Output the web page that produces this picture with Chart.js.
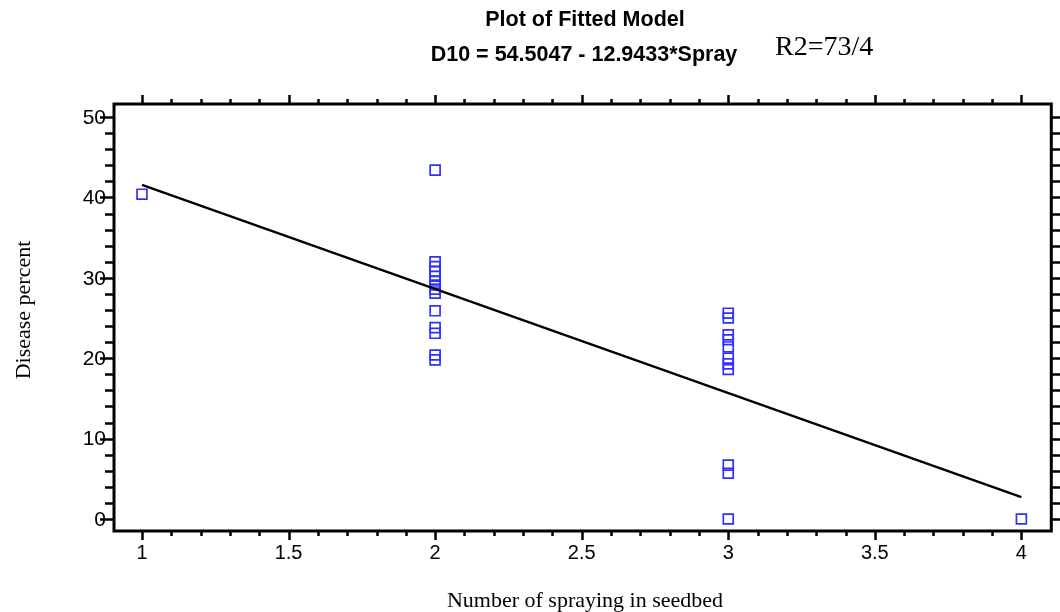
<!DOCTYPE html>
<html>
<head>
<meta charset="utf-8">
<script src="https://cdn.jsdelivr.net/npm/chart.js@4.4.1/dist/chart.umd.min.js"></script>
<style>
html,body{margin:0;padding:0;background:#fff;}
#wrap{width:1060px;height:612px;}
</style>
</head>
<body>
<div id="wrap"><canvas id="c" width="1060" height="612"></canvas></div>
<script>
// ---- data ----
const titleLines = ["Plot of Fitted Model", "D10 = 54.5047 - 12.9433*Spray"];
const r2Label = "R2=73/4";
const xAxisLabel = "Number of spraying in seedbed";
const yAxisLabel = "Disease percent";

const spray1 = [40.4];
const spray2 = [43.4, 32.0, 31.4, 30.8, 30.2, 29.6, 29.1, 28.6, 28.1, 25.9, 23.8, 23.1, 20.4, 19.8];
const spray3 = [25.6, 25.0, 22.9, 22.3, 21.4, 20.0, 19.3, 18.6, 6.7, 5.7, 0];
const spray4 = [0];

const fitX = [1, 4];
const fitY = [41.56, 2.73];

const xTickLabels = ["1", "1.5", "2", "2.5", "3", "3.5", "4"];
const yTickLabels = ["0", "10", "20", "30", "40", "50"];

// ---- build datasets ----
const points = [];
[[1, spray1], [2, spray2], [3, spray3], [4, spray4]].forEach(([x, arr]) => {
  arr.forEach(v => points.push({x: x, y: v}));
});
const fitLine = fitX.map((x, i) => ({x: x, y: fitY[i]}));

const decor = {
  id: 'decor',
  afterDraw(chart) {
    const ctx = chart.ctx;
    const xs = chart.scales.x, ys = chart.scales.y;
    const a = chart.chartArea;
    ctx.save();
    ctx.strokeStyle = '#000';
    ctx.lineCap = 'butt';
    // frame
    ctx.lineWidth = 3;
    ctx.strokeRect(a.left, a.top, a.right - a.left, a.bottom - a.top);
    // x ticks (bottom & top)
    ctx.lineWidth = 2.5;
    for (let i = 10; i <= 40; i++) {
      const v = i / 10;
      const px = Math.round(xs.getPixelForValue(v)) + 0.5;
      const major = (i % 5 === 0);
      const len = major ? 9 : 5;
      ctx.beginPath();
      ctx.moveTo(px, a.bottom); ctx.lineTo(px, a.bottom + len);
      ctx.moveTo(px, a.top); ctx.lineTo(px, a.top - len);
      ctx.stroke();
    }
    // y ticks (left & right)
    for (let v = 0; v <= 50; v += 2) {
      const py = Math.round(ys.getPixelForValue(v)) + 0.5;
      const major = (v % 10 === 0);
      ctx.beginPath();
      ctx.moveTo(a.left, py); ctx.lineTo(a.left - (major ? 14 : 9), py);
      ctx.moveTo(a.right, py); ctx.lineTo(a.right + 9, py);
      ctx.stroke();
    }
    // tick labels
    ctx.fillStyle = '#000';
    ctx.font = '20px "Liberation Sans", Arial, sans-serif';
    ctx.textAlign = 'center';
    ctx.textBaseline = 'top';
    xTickLabels.forEach(t => {
      ctx.fillText(t, xs.getPixelForValue(parseFloat(t)), a.bottom + 12);
    });
    ctx.font = '21px "Liberation Sans", Arial, sans-serif';
    ctx.textAlign = 'right';
    ctx.textBaseline = 'middle';
    yTickLabels.forEach(t => {
      ctx.fillText(t, a.left - 8, ys.getPixelForValue(parseFloat(t)) + 1);
    });
    // axis titles
    ctx.font = '22px "Liberation Serif", "Times New Roman", serif';
    ctx.textAlign = 'center';
    ctx.textBaseline = 'alphabetic';
    ctx.fillText(xAxisLabel, 585, 607);
    ctx.save();
    ctx.translate(30, 310);
    ctx.rotate(-Math.PI / 2);
    ctx.fillText(yAxisLabel, 0, 0);
    ctx.restore();
    // title
    ctx.font = 'bold 21.5px "Liberation Sans", Arial, sans-serif';
    ctx.fillText(titleLines[0], 585, 26);
    ctx.fillText(titleLines[1], 584, 61);
    ctx.font = '28px "Liberation Serif", "Times New Roman", serif';
    ctx.textAlign = 'left';
    ctx.fillText(r2Label, 775, 55);
    ctx.restore();
  }
};

new Chart(document.getElementById('c'), {
  type: 'scatter',
  data: {
    datasets: [
      {
        type: 'line',
        data: fitLine,
        borderColor: '#000',
        borderWidth: 2.3,
        pointRadius: 0,
        fill: false,
        tension: 0
      },
      {
        type: 'scatter',
        data: points,
        pointStyle: 'rect',
        pointRadius: 7,
        pointBorderWidth: 1.7,
        pointBorderColor: '#2f2fff',
        pointBackgroundColor: 'rgba(255,255,255,0)'
      }
    ]
  },
  options: {
    responsive: false,
    animation: false,
    devicePixelRatio: 1,
    layout: {padding: {left: 114, right: 8, top: 104, bottom: 81}},
    plugins: {legend: {display: false}, tooltip: {enabled: false}, title: {display: false}},
    scales: {
      x: {type: 'linear', min: 0.9045, max: 4.102, display: false},
      y: {type: 'linear', min: -1.49, max: 51.62, display: false}
    }
  },
  plugins: [decor]
});
</script>
</body>
</html>
